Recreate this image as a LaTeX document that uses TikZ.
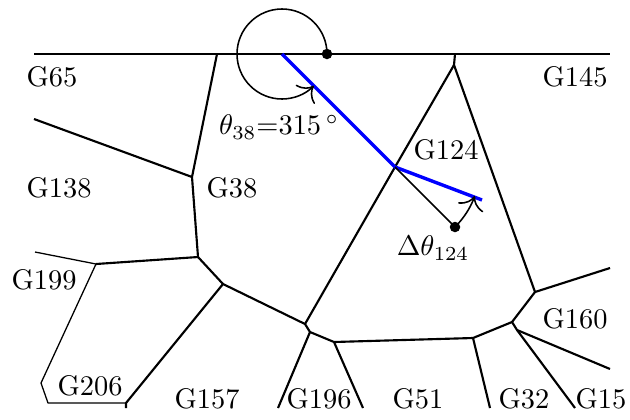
\documentclass[tikz,border=0pt]{standalone}
\usetikzlibrary{arrows.meta}
\begin{document}
\begin{tikzpicture}[x=0.352pt,y=-0.352pt,
  cell/.style={line width=0.75pt, line join=round},
  thinline/.style={line width=0.45pt, line join=round},
  bluepath/.style={blue, line width=1.2pt},
  anglearc/.style={line width=0.55pt, -{To[scale=1.6]}},
  dotmark/.style={circle, fill=black, inner sep=0pt, minimum size=3.7pt},
  lbl/.style={inner sep=0pt, anchor=center}]
\useasboundingbox (0,0) rectangle (630,419);
% junctions
\coordinate (tL) at (34,54);
\coordinate (tR) at (610,54);
\coordinate (a) at (217,54);
\coordinate (b) at (192,177);
\coordinate (lb) at (34,119);
\coordinate (c) at (198,257);
\coordinate (d0) at (35,252);
\coordinate (d) at (96,264);
\coordinate (e) at (41,383);
\coordinate (f) at (48,403);
\coordinate (g) at (126,403);
\coordinate (g2) at (126,408);
\coordinate (h) at (223,284);
\coordinate (i) at (305,324);
\coordinate (j) at (310,332);
\coordinate (k) at (334,342);
\coordinate (jb) at (278,408);
\coordinate (kb) at (363,408);
\coordinate (l) at (473,338);
\coordinate (lb2) at (490,408);
\coordinate (m) at (512,322);
\coordinate (n) at (517,330);
\coordinate (nb1) at (610,369);
\coordinate (nb2) at (575,408);
\coordinate (o) at (535,292);
\coordinate (oR) at (610,268);
\coordinate (p) at (455,54);
\coordinate (p2) at (454,65);
\coordinate (q) at (395,167);
\coordinate (s) at (282,54);
\coordinate (r) at (482,200);
% cell edges
\draw[thinline] (tL) -- (tR);
\draw[cell] (a) -- (b) -- (c) -- (h) -- (i) -- (j) -- (k) -- (l) -- (m) -- (o) -- (p2) -- (p);
\draw[cell] (lb) -- (b);
\draw[thinline] (d0) -- (d);
\draw[cell] (d) -- (c);
\draw[thinline] (d) -- (e) -- (f) -- (g);
\draw[cell] (g2) -- (g) -- (h);
\draw[cell] (p2) -- (q) -- (i);
\draw[cell] (j) -- (jb);
\draw[cell] (k) -- (kb);
\draw[cell] (l) -- (lb2);
\draw[cell] (m) -- (n) -- (nb1);
\draw[cell] (n) -- (nb2);
\draw[cell] (o) -- (oR);
% blue path
\draw[bluepath] (s) -- (q) -- (r);
% angle theta_38
\node[dotmark] (dot1) at (327,54) {};
\draw[anglearc] (dot1.center) arc[start angle=0, end angle=315, radius=15.84pt];
% angle delta theta_124
\node[dotmark] (dot2) at (455,227) {};
\draw[line width=0.55pt] (q) -- (dot2.center);
\draw[anglearc] (dot2.center) arc[start angle=-45, end angle=-20, radius=29.9pt];
% labels
\node[lbl] (G65) at (52,77) {G65};
\node[lbl] (G145) at (575,77) {G145};
\node[lbl] (G138) at (59,188) {G138};
\node[lbl] (G38) at (232,188) {G38};
\node[lbl] (th) at (279,127) {$\theta_{38}$=315\,$^\circ$};
\node[lbl] (G124) at (446,150) {G124};
\node[lbl] (dth) at (433,248) {$\Delta\theta_{124}$};
\node[lbl] (G199) at (44,280) {G199};
\node[lbl] (G206) at (90,386) {G206};
\node[lbl] (G157) at (207,399) {G157};
\node[lbl] (G196) at (319,399) {G196};
\node[lbl] (G51) at (418,399) {G51};
\node[lbl] (G32) at (524,399) {G32};
\node[lbl] (G15) at (601,399) {G15};
\node[lbl] (G160) at (575,319) {G160};
\end{tikzpicture}
\end{document}
